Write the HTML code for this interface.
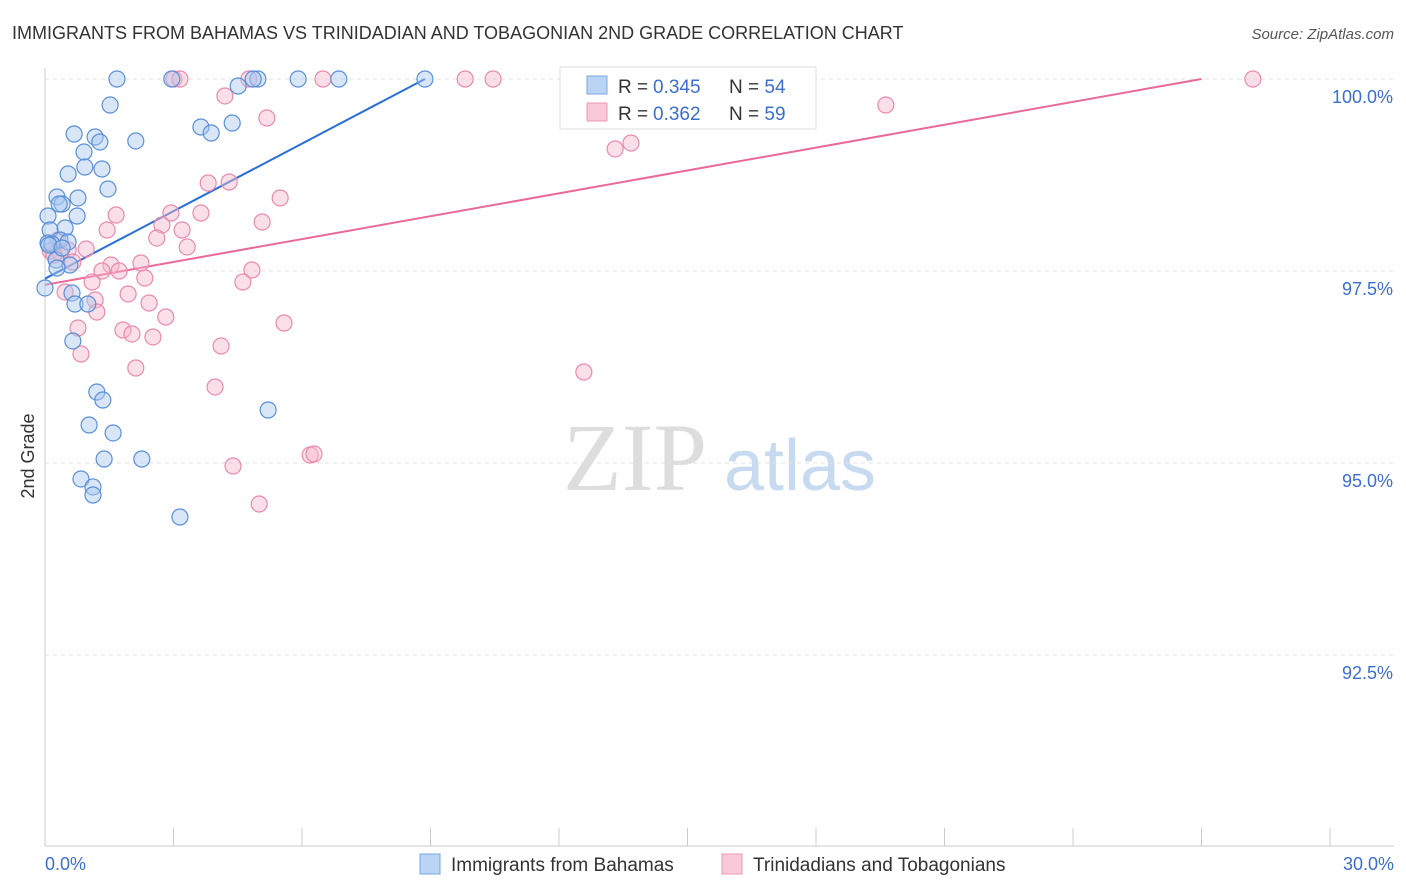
<!DOCTYPE html>
<html><head><meta charset="utf-8"><style>
body{margin:0;background:#fff;font-family:"Liberation Sans",sans-serif}
svg{display:block}
</style></head><body>
<svg id="chart" width="1406" height="892" xmlns="http://www.w3.org/2000/svg">
<text x="12" y="39" font-size="18" fill="#333">IMMIGRANTS FROM BAHAMAS VS TRINIDADIAN AND TOBAGONIAN 2ND GRADE CORRELATION CHART</text>
<text x="1394" y="39" font-size="15" fill="#555" font-style="italic" text-anchor="end">Source: ZipAtlas.com</text>
<text x="34" y="456" font-size="18" fill="#333" transform="rotate(-90 34 456)" text-anchor="middle">2nd Grade</text>
<g>
<text x="635" y="490" font-size="96" font-family="Liberation Serif,serif" fill="#ddd" text-anchor="middle">ZIP</text>
<text x="800" y="490" font-size="72" fill="#c8daf0" text-anchor="middle">atlas</text>
</g>
<g id="grid"></g><g id="axes"></g><g id="trend"></g><g id="pts"></g>
<g>
<rect x="560" y="67" width="256" height="62" fill="#fff" stroke="#ddd"/>
<rect x="587" y="76" width="20" height="18" fill="#b9d4f5" stroke="#7aa7e0"/>
<rect x="587" y="103" width="20" height="18" fill="#f9c9d8" stroke="#ec98b4"/>
<text x="618" y="93" font-size="19" fill="#333">R = </text>
<text x="653" y="93" font-size="19" fill="#3a6fd0">0.345</text>
<text x="729" y="93" font-size="19" fill="#333">N = <tspan fill="#3a6fd0">54</tspan></text>
<text x="618" y="120" font-size="19" fill="#333">R = </text>
<text x="653" y="120" font-size="19" fill="#3a6fd0">0.362</text>
<text x="729" y="120" font-size="19" fill="#333">N = <tspan fill="#3a6fd0">59</tspan></text>
</g>
<g>
<rect x="420" y="854" width="20" height="20" fill="#b9d4f5" stroke="#7aa7e0"/>
<text x="451" y="871" font-size="19" fill="#333">Immigrants from Bahamas</text>
<rect x="722" y="854" width="20" height="20" fill="#f9c9d8" stroke="#ec98b4"/>
<text x="753" y="871" font-size="19" fill="#333">Trinidadians and Tobagonians</text>
</g>
</svg>
<script>
const yTicks=[100,97.5,95,92.5];
const yTickLabels=["100.0%","97.5%","95.0%","92.5%"];
const xTickCount=11;
const blueTrendX=[0,8.87];
const blueTrendY=[97.40,100];
const pinkTrendX=[0,27.0];
const pinkTrendY=[97.32,100];
const bluePx=[[117,79],[172,79],[258,79],[298,79],[339,79],[425,79],[253,79],[238,86],[110,105],[201,127],[232,123],[211,133],[74,134],[95,137],[100,142],[136,141],[84,152],[102,169],[85,167],[68,174],[108,189],[57,197],[78,198],[62,204],[59,204],[48,216],[77,216],[50,230],[65,228],[60,240],[68,242],[48,243],[52,244],[56,260],[70,265],[45,288],[72,293],[75,304],[88,304],[73,341],[97,392],[103,400],[89,425],[113,433],[104,459],[142,459],[81,479],[93,487],[93,495],[180,517],[268,410],[57,268],[49,245],[62,248]];
const pinkPx=[[174,79],[180,79],[249,79],[323,79],[465,79],[493,79],[1253,79],[225,96],[886,105],[267,118],[631,143],[615,149],[208,183],[229,182],[280,198],[116,215],[171,213],[201,213],[262,222],[107,230],[162,225],[182,230],[157,238],[187,247],[86,249],[68,250],[50,251],[60,253],[54,255],[73,262],[111,265],[141,263],[252,270],[102,271],[119,271],[145,278],[243,282],[92,282],[65,292],[128,294],[95,300],[149,303],[97,312],[166,317],[284,323],[78,328],[123,330],[132,334],[153,337],[221,346],[81,354],[136,368],[584,372],[215,387],[310,455],[314,454],[233,466],[259,504],[58,240]];
const blueX=bluePx.map(p=>+((p[0]-45)/1285*30).toFixed(2));
const blueY=bluePx.map(p=>+(100-(p[1]-79)/192*2.5).toFixed(3));
const pinkX=pinkPx.map(p=>+((p[0]-45)/1285*30).toFixed(2));
const pinkY=pinkPx.map(p=>+(100-(p[1]-79)/192*2.5).toFixed(3));
const NS="http://www.w3.org/2000/svg";
const sx=v=>45+v/30*1285, sy=v=>79+(100-v)/2.5*192;
function mk(t,a,p){const e=document.createElementNS(NS,t);for(const k in a)e.setAttribute(k,a[k]);p.appendChild(e);return e;}
const grid=document.getElementById('grid'),axes=document.getElementById('axes');
yTicks.forEach((v,i)=>{
 const l=mk('line',{x1:45,x2:1394,y1:sy(v),y2:sy(v),stroke:'#e0e0e0','stroke-dasharray':'4,4'},grid);
 
 
 const t=mk('text',{x:1393,y:sy(v)+24,'font-size':18,fill:'#3a6fd0','text-anchor':'end'},axes);
 t.textContent=yTickLabels[i];
 
 
});
const ax=mk('line',{x1:45,x2:45,y1:68,y2:846,stroke:'#ccc'},axes);


const bx=mk('line',{x1:45,x2:1394,y1:846,y2:846,stroke:'#ccc'},axes);


for(let i=0;i<xTickCount;i++){const x=sx(i*3);const t=mk('line',{x1:x,x2:x,y1:828,y2:846,stroke:'#ccc'},axes);
 
 }
const xl0=mk('text',{x:45,y:870,'font-size':18,fill:'#3a6fd0'},axes);xl0.textContent='0.0%';


const xl1=mk('text',{x:1394,y:870,'font-size':18,fill:'#3a6fd0','text-anchor':'end'},axes);xl1.textContent='30.0%';


const pts=document.getElementById('pts');
function draw(xs,ys,fill,stroke,name){xs.forEach((x,i)=>{const c=mk('circle',{cx:sx(x),cy:sy(ys[i]),r:8,fill:fill,'fill-opacity':0.45,stroke:stroke,'stroke-width':1.2},pts);
 
 });}
draw(pinkX,pinkY,'#f7b8cc','#e98aab','point-trinidadian');
draw(blueX,blueY,'#a9c8f0','#5a8fd8','point-bahamas');
const tr=document.getElementById('trend');
const t1=mk('line',{x1:sx(blueTrendX[0]),y1:sy(blueTrendY[0]),x2:sx(blueTrendX[1]),y2:sy(blueTrendY[1]),stroke:'#2a6fd6','stroke-width':2},tr);


const t2=mk('line',{x1:sx(pinkTrendX[0]),y1:sy(pinkTrendY[0]),x2:sx(pinkTrendX[1]),y2:sy(pinkTrendY[1]),stroke:'#e8699a','stroke-width':2},tr);


</script>
</body></html>
